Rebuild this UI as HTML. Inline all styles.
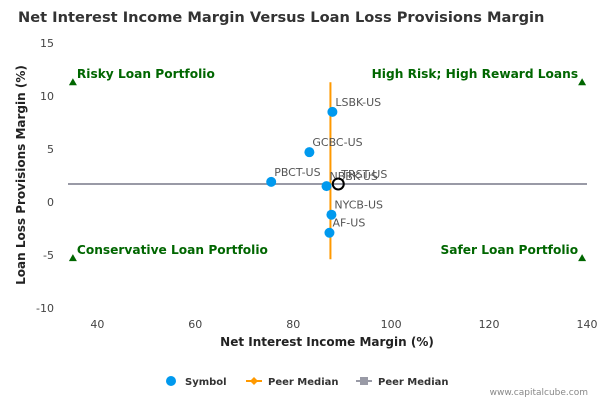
<!DOCTYPE html>
<html><head><meta charset="utf-8"><style>
body{margin:0;background:#fff;font-family:"Liberation Sans","DejaVu Sans",sans-serif}
svg text{font-family:"DejaVu Sans","Liberation Sans",sans-serif}
</style></head><body>
<svg id="c" width="600" height="400" xmlns="http://www.w3.org/2000/svg">
<text x="18" y="22" font-size="14.6" font-weight="bold" fill="#333">Net Interest Income Margin Versus Loan Loss Provisions Margin</text>
<g id="grid"></g><g id="marks"></g>
<text x="327" y="346" font-size="12" font-weight="bold" fill="#222" text-anchor="middle">Net Interest Income Margin (%)</text>
<text transform="translate(25,175) rotate(-90)" font-size="12" font-weight="bold" fill="#222" text-anchor="middle">Loan Loss Provisions Margin (%)</text>
<g font-size="10" font-weight="bold" fill="#333">
<g><circle cx="171" cy="381" r="5" fill="#0099ee"/><text x="185" y="385">Symbol</text></g>
<g><line x1="246" y1="381" x2="262" y2="381" stroke="#f90" stroke-width="2"/><path d="M254 377 L258 381 L254 385 L250 381Z" fill="#f90"/><text x="268" y="385">Peer Median</text></g>
<g><line x1="356" y1="381" x2="372" y2="381" stroke="#999aa6" stroke-width="2"/><rect x="360" y="377" width="8" height="8" fill="#999aa6"/><text x="378" y="385">Peer Median</text></g>
</g>
<text x="588" y="395" font-size="9" fill="#888" text-anchor="end">www.capitalcube.com</text>
</svg>
<script>
const xTicks=[40,60,80,100,120,140];
const yTicks=[15,10,5,0,-5,-10];
const names=["LSBK-US","GCBC-US","PBCT-US","NBBK-US","TRST-US","NYCB-US","AF-US"];
const xVals=[88.0,83.3,75.5,86.8,89.2,87.8,87.4];
const yVals=[8.5,4.7,1.9,1.5,1.7,-1.2,-2.9];
const medianX=[87.6];
const medianY=[1.7];
const quadrants=["Risky Loan Portfolio","High Risk; High Reward Loans","Conservative Loan Portfolio","Safer Loan Portfolio"];
const quadX=[35,139,35,139];
const quadY=[11.3,11.3,-5.3,-5.3];
const xMin=34,xMax=140,yMin=-10,yMax=15;
const L=68,R=587,T=43,B=308;
const sx=v=>L+(v-xMin)/(xMax-xMin)*(R-L);
const sy=v=>B-(v-yMin)/(yMax-yMin)*(B-T);
const NS="http://www.w3.org/2000/svg";
function mk(p,t,a){const e=document.createElementNS(NS,t);for(const k in a)e.setAttribute(k,a[k]);p.appendChild(e);return e;}
const g=document.getElementById('grid'),m=document.getElementById('marks');
xTicks.forEach(t=>{const e=mk(g,'text',{x:sx(t),y:B+20,'font-size':11,fill:'#444','text-anchor':'middle'});e.textContent=t;

});
yTicks.forEach(t=>{const e=mk(g,'text',{x:L-14,y:sy(t)+4,'font-size':11,fill:'#444','text-anchor':'end'});e.textContent=t;

});
const hl=mk(m,'line',{x1:L,x2:R,y1:sy(medianY[0]),y2:sy(medianY[0]),stroke:'#999aa6',"stroke-width":2});


const vl=mk(m,'line',{x1:sx(medianX[0]),x2:sx(medianX[0]),y1:sy(11.3),y2:sy(-5.4),stroke:'#f90',"stroke-width":2});


quadrants.forEach((q,i)=>{const x=sx(quadX[i]),y=sy(quadY[i]);
const p=mk(m,'path',{d:`M${x} ${y-4} L${x+4} ${y+3} L${x-4} ${y+3}Z`,fill:'#060'});


const left=i%2==0;const t=mk(m,'text',{x:left?x+4:x-4,y:y-4,'font-size':12.2,'font-weight':'bold',fill:'#060','text-anchor':left?'start':'end'});t.textContent=q;

});
names.forEach((n,i)=>{const x=sx(xVals[i]),y=sy(yVals[i]);
let c;
if(n==="TRST-US"){c=mk(m,'circle',{cx:x,cy:y,r:5.5,fill:'none',stroke:'#000','stroke-width':2});}
else c=mk(m,'circle',{cx:x,cy:y,r:5,fill:'#0099ee'});


const t=mk(m,'text',{x:x+3,y:y-6,'font-size':11,fill:'#555'});t.textContent=n;

});
</script>
</body></html>
